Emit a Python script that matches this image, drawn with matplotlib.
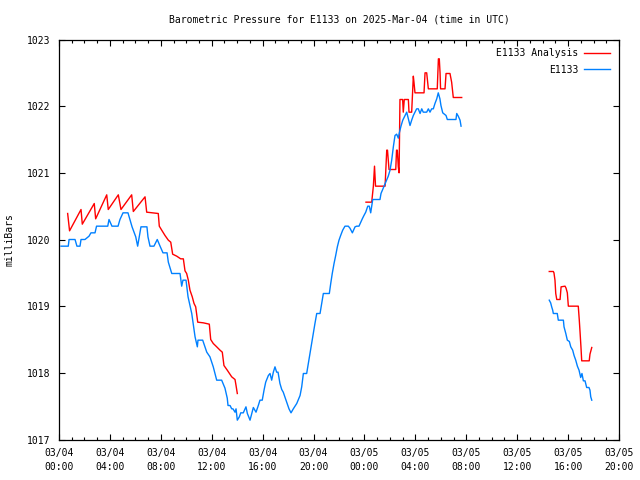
import numpy as np
import matplotlib
matplotlib.use('Agg')
import matplotlib.pyplot as plt

nan = np.nan

# hours since 2025-03-04 00:00 UTC / pressure in mbar
obs_hours = [
    0.16, 0.73, 0.79, 1.26, 1.41, 1.65, 1.73, 2.04, 2.36, 2.51, 2.83, 2.95,
    3.83, 3.93, 4.16, 4.64, 4.79, 5.03, 5.42, 5.74, 6.03, 6.18, 6.44, 6.60,
    6.91, 6.99, 7.15, 7.46, 7.72, 7.94, 8.17, 8.49, 8.59, 8.86, 9.51, 9.64,
    9.74, 9.98, 10.14, 10.43, 10.69, 10.87, 10.92, 11.29, 11.61, 11.86, 12.12,
    12.39, 12.78, 13.04, 13.22, 13.28, 13.44, 13.57, 13.67, 13.83, 13.91,
    14.01, 14.17, 14.28, 14.48, 14.69, 14.80, 15.01, 15.27, 15.48, 15.66,
    15.79, 15.97, 16.11, 16.24, 16.45, 16.58, 16.71, 16.84, 16.97, 17.10,
    17.21, 17.36, 17.50, 17.62, 17.89, 18.07, 18.23, 18.41, 18.68, 18.94,
    19.07, 19.20, 19.46, 19.59, 19.72, 19.86, 19.98, 20.11, 20.25, 20.51,
    20.64, 20.77, 21.24, 21.35, 21.47, 21.61, 21.74, 21.87, 22.00, 22.13,
    22.29, 22.47, 22.73, 22.86, 23.05, 23.26, 23.39, 23.57, 23.71, 23.83,
    23.96, 24.10, 24.26, 24.38, 24.49, 24.65, 25.22, 25.30, 25.43, 25.62,
    25.75, 25.87, 26.01, 26.14, 26.27, 26.40, 26.53, 26.66, 26.74, 26.87,
    27.01, 27.19, 27.32, 27.45, 27.58, 27.71, 27.84, 27.97, 28.10, 28.23,
    28.37, 28.50, 28.62, 28.89, 29.02, 29.15, 29.28, 29.41, 29.54, 29.68,
    29.80, 29.93, 30.01, 30.15, 30.41, 30.51, 31.19, 31.25, 31.37, 31.51,
    31.59,
    35.0,
    38.52, 38.63, 38.71, 38.79, 38.84, 39.15, 39.23, 39.63, 39.68, 39.82,
    39.94, 40.10, 40.21, 40.36, 40.47, 40.60, 40.73, 40.86, 40.99, 41.09,
    41.20, 41.33, 41.46, 41.64, 41.72, 41.78, 41.86,
]
obs_mbar = [
    1019.90, 1019.90, 1020.00, 1020.00, 1019.90, 1019.90, 1020.00, 1020.00,
    1020.05, 1020.10, 1020.10, 1020.20, 1020.20, 1020.30, 1020.20, 1020.20,
    1020.30, 1020.40, 1020.40, 1020.19, 1020.04, 1019.90, 1020.19, 1020.19,
    1020.19, 1020.04, 1019.90, 1019.90, 1020.00, 1019.90, 1019.80, 1019.80,
    1019.66, 1019.49, 1019.49, 1019.30, 1019.39, 1019.39, 1019.14, 1018.89,
    1018.54, 1018.39, 1018.49, 1018.49, 1018.31, 1018.24, 1018.09, 1017.89,
    1017.89, 1017.77, 1017.62, 1017.51, 1017.51, 1017.46, 1017.46, 1017.41,
    1017.46, 1017.29, 1017.34, 1017.40, 1017.40, 1017.49, 1017.39, 1017.29,
    1017.48, 1017.41, 1017.51, 1017.59, 1017.59, 1017.74, 1017.86, 1017.96,
    1017.99, 1017.89, 1018.01, 1018.09, 1018.01, 1018.01, 1017.84, 1017.75,
    1017.71, 1017.56, 1017.46, 1017.40, 1017.46, 1017.54, 1017.66, 1017.79,
    1017.99, 1017.99, 1018.14, 1018.29, 1018.46, 1018.59, 1018.74, 1018.89,
    1018.89, 1019.04, 1019.19, 1019.19, 1019.34, 1019.49, 1019.64, 1019.76,
    1019.89, 1019.99, 1020.06, 1020.14, 1020.20, 1020.20, 1020.17, 1020.10,
    1020.19, 1020.20, 1020.20, 1020.26, 1020.31, 1020.36, 1020.41, 1020.50,
    1020.50, 1020.40, 1020.60, 1020.60, 1020.69, 1020.75, 1020.84, 1020.90,
    1020.95, 1021.04, 1021.19, 1021.39, 1021.56, 1021.58, 1021.52, 1021.60,
    1021.70, 1021.79, 1021.86, 1021.91, 1021.81, 1021.71, 1021.79, 1021.86,
    1021.91, 1021.96, 1021.96, 1021.89, 1021.96, 1021.91, 1021.91, 1021.96,
    1021.91, 1021.96, 1021.96, 1022.04, 1022.11, 1022.20, 1022.11, 1022.01,
    1021.90, 1021.86, 1021.80, 1021.80, 1021.89, 1021.85, 1021.79, 1021.70,
    nan,
    1019.09, 1019.05, 1018.99, 1018.94, 1018.89, 1018.89, 1018.79, 1018.79,
    1018.69, 1018.59, 1018.49, 1018.47, 1018.39, 1018.34, 1018.26, 1018.19,
    1018.10, 1018.04, 1017.93, 1017.99, 1017.88, 1017.88, 1017.78, 1017.78,
    1017.74, 1017.64, 1017.59,
]

ana_hours = [
    0.68, 0.83, 1.73, 1.83, 2.77, 2.88, 3.75, 3.87, 4.66, 4.87, 5.71, 5.84,
    6.76, 6.89, 7.80, 7.88, 8.07, 8.33, 8.59, 8.78, 8.93, 9.25, 9.56, 9.77,
    9.90, 10.03, 10.16, 10.29, 10.47, 10.61, 10.74, 10.90, 11.34, 11.81,
    11.92, 12.12, 12.39, 12.65, 12.83, 12.96, 13.22, 13.57, 13.83, 13.91,
    14.01,
    19.0,
    24.12, 24.57, 24.70, 24.79, 24.87, 25.62, 25.75, 25.81, 25.93, 26.46,
    26.52, 26.58, 26.66, 26.72, 26.79, 27.00, 27.05, 27.13, 27.45, 27.50,
    27.71, 27.84, 27.89, 27.97, 28.68, 28.76, 28.89, 29.02, 29.72, 29.81,
    29.88, 29.94, 29.98, 30.33, 30.41, 30.72, 30.85, 30.98, 31.64,
    35.0,
    38.52, 38.84, 38.89, 38.97, 39.03, 39.11, 39.37, 39.45, 39.76, 39.84,
    39.94, 40.02, 40.80, 40.88, 40.94, 41.01, 41.07, 41.66, 41.72, 41.86,
]
ana_mbar = [
    1020.39, 1020.13, 1020.45, 1020.23, 1020.54, 1020.31, 1020.67, 1020.45,
    1020.67, 1020.45, 1020.67, 1020.42, 1020.64, 1020.41, 1020.39, 1020.20,
    1020.14, 1020.06, 1019.99, 1019.96, 1019.78, 1019.75, 1019.71, 1019.71,
    1019.53, 1019.49, 1019.39, 1019.24, 1019.14, 1019.04, 1018.99, 1018.76,
    1018.75, 1018.73, 1018.50, 1018.44, 1018.39, 1018.34, 1018.31, 1018.11,
    1018.04, 1017.94, 1017.90, 1017.81, 1017.69,
    nan,
    1020.56, 1020.56, 1020.80, 1021.10, 1020.80, 1020.80, 1021.34, 1021.34,
    1021.05, 1021.05, 1021.34, 1021.34, 1021.09, 1021.00, 1022.10, 1022.10,
    1021.91, 1022.10, 1022.10, 1021.91, 1021.91, 1022.45, 1022.36, 1022.20,
    1022.20, 1022.50, 1022.50, 1022.26, 1022.26, 1022.71, 1022.71, 1022.50,
    1022.26, 1022.26, 1022.49, 1022.49, 1022.36, 1022.13, 1022.13,
    nan,
    1019.52, 1019.52, 1019.50, 1019.39, 1019.19, 1019.10, 1019.10, 1019.29,
    1019.30, 1019.27, 1019.20, 1019.00, 1019.00, 1018.79, 1018.61, 1018.39,
    1018.18, 1018.18, 1018.28, 1018.38,
]

tick_hours = [0, 4, 8, 12, 16, 20, 24, 28, 32, 36, 40, 44]
tick_labels = ['03/04\n00:00', '03/04\n04:00', '03/04\n08:00', '03/04\n12:00',
               '03/04\n16:00', '03/04\n20:00', '03/05\n00:00', '03/05\n04:00',
               '03/05\n08:00', '03/05\n12:00', '03/05\n16:00', '03/05\n20:00']
y_ticks = [1017, 1018, 1019, 1020, 1021, 1022, 1023]

plt.rcParams['font.family'] = 'DejaVu Sans Mono'
plt.rcParams['font.size'] = 7

fig = plt.figure(figsize=(6.4, 4.8), dpi=100)
ax = fig.add_axes([59 / 640, 1 - 439.5 / 480, 560 / 640, 400 / 480])

ax.plot(ana_hours, ana_mbar, color='#ff0000', lw=1, label='E1133 Analysis')
ax.plot(obs_hours, obs_mbar, color='#0080ff', lw=1, label='E1133')

ax.set_xlim(0, 44)
ax.set_ylim(1017, 1023)
ax.set_xticks(tick_hours)
ax.set_xticklabels(tick_labels)
ax.set_xticks(np.arange(0, 45, 1), minor=True)
ax.set_yticks(y_ticks)
for t in ax.get_xticklabels():
    t.set_linespacing(1.5)

ax.tick_params(which='both', direction='in', top=True, right=True, width=0.8)
ax.tick_params(which='major', length=4.5)
ax.tick_params(which='minor', length=2.5)
ax.tick_params(axis='x', pad=6)
ax.tick_params(axis='y', pad=6)
for s in ax.spines.values():
    s.set_linewidth(0.9)

ax.set_title('Barometric Pressure for E1133 on 2025-Mar-04 (time in UTC)',
             fontsize=7, pad=12)
ax.set_ylabel('milliBars', labelpad=9)

ax.legend(loc='upper right', frameon=False, markerfirst=False,
          handlelength=2.7, borderaxespad=0.6, borderpad=0.3,
          labelspacing=0.65, handletextpad=0.6)

fig.savefig('out.png', dpi=100)
